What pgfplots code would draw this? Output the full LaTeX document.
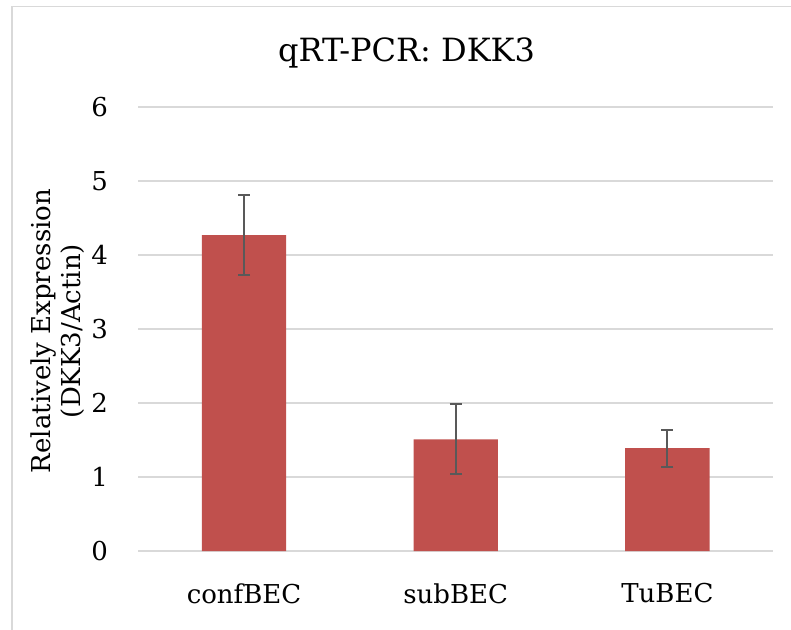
\documentclass[border=0pt]{standalone}
\usepackage{pgfplots}
\pgfplotsset{compat=1.18}
\usepackage{fontspec}
\setmainfont{DejaVu Serif}
\definecolor{barred}{HTML}{C0504D}
\definecolor{gridgray}{HTML}{D9D9D9}
\definecolor{errgray}{HTML}{595959}
\pgfplotstableread{
x y e
0 4.27 0.54
1 1.51 0.47
2 1.39 0.25
}\dkkdata
\begin{document}
\begin{tikzpicture}
\useasboundingbox (0pt,0pt) rectangle (593.25pt,471.75pt);
\draw[gridgray, line width=0.9pt] (9pt,-15pt) -- (9pt,466.9pt) -- (615pt,466.9pt);
\node[anchor=base, font=\fontsize{24}{28}\selectfont] at (304.9pt,425.25pt) {qRT-PCR: DKK3};
\begin{axis}[
  at={(103.65pt,58.5pt)}, anchor=south west,
  scale only axis, width=476.3pt, height=333pt,
  xmin=-0.5, xmax=2.5, ymin=0, ymax=6,
  axis line style={draw=none},
  major tick length=0pt,
  ymajorgrids, grid style={gridgray, line width=1pt},
  ytick={0,1,2,3,4,5,6},
  xtick={0,1,2}, xticklabels={confBEC,subBEC,TuBEC},
  /pgf/number format/assume math mode=true,
  yticklabel style={anchor=east, inner sep=0pt, xshift=-22.5pt, font=\fontsize{19.5}{22}\selectfont},
  xticklabel style={anchor=north, inner sep=0pt, yshift=-24pt, font=\fontsize{19.5}{22}\selectfont},
  ylabel={Relatively Expression\\(DKK3/Actin)},
  ylabel style={at={(axis description cs:-0.1270,0.4955)}, anchor=center, align=center, font=\fontsize{19.5}{22.5}\selectfont},
]
\addplot[ybar, bar width=63.3pt, fill=barred, draw=none,
  error bars/.cd, y dir=both, y explicit,
  error bar style={errgray, line width=1.5pt},
  error mark options={rotate=90, errgray, line width=1.5pt, mark size=4.5pt}]
  table[x=x, y=y, y error=e] {\dkkdata};
\end{axis}
\end{tikzpicture}
\end{document}
